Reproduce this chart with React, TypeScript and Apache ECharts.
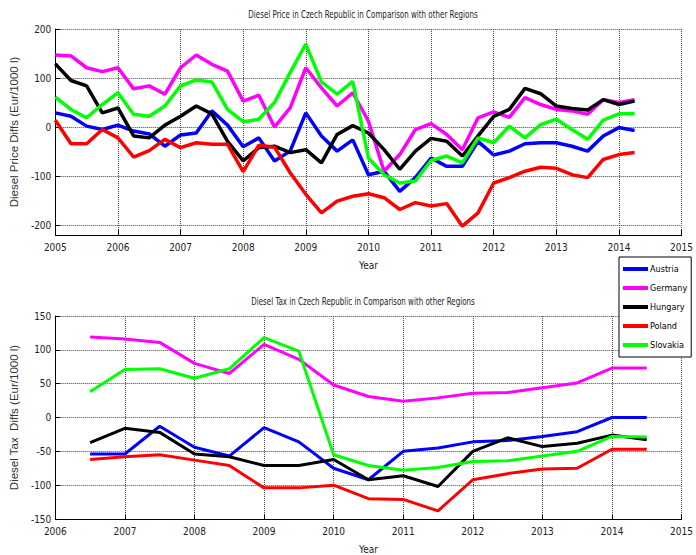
import React, { useEffect, useRef } from "react";
import * as echarts from "echarts";

// ---- Data ----
const countries = ["Austria", "Germany", "Hungary", "Poland", "Slovakia"];
const countryColors = ["#0000ff", "#ff00ff", "#000000", "#ff0000", "#00ff00"];

const priceQuarters = [
  2005, 2005.25, 2005.5, 2005.75, 2006, 2006.25, 2006.5, 2006.75, 2007, 2007.25,
  2007.5, 2007.75, 2008, 2008.25, 2008.5, 2008.75, 2009, 2009.25, 2009.5, 2009.75,
  2010, 2010.25, 2010.5, 2010.75, 2011, 2011.25, 2011.5, 2011.75, 2012, 2012.25,
  2012.5, 2012.75, 2013, 2013.25, 2013.5, 2013.75, 2014, 2014.25,
];
const priceAustria = [
  29, 22, 2, -5, 4, -8, -14, -39, -16, -12, 33, 4, -40, -22, -69, -49, 29, -18, -49, -26,
  -97, -90, -131, -103, -63, -80, -80, -29, -57, -49, -34, -32, -32, -39, -49, -18, -1, -7,
];
const priceGermany = [
  147, 145, 121, 113, 121, 78, 84, 67, 121, 147, 128, 114, 53, 65, 0, 39, 121, 80, 43, 70,
  12, -90, -56, -5, 7, -15, -46, 19, 31, 20, 60, 46, 36, 33, 26, 56, 50, 56,
];
const priceHungary = [
  129, 95, 84, 29, 39, -18, -22, 4, 22, 43, 27, -29, -69, -42, -39, -52, -46, -73, -15, 3,
  -12, -46, -86, -49, -23, -29, -59, -18, 22, 36, 79, 68, 43, 38, 35, 56, 46, 53,
];
const pricePoland = [
  14, -34, -34, -5, -22, -61, -48, -25, -42, -32, -35, -35, -91, -37, -41, -93, -137, -175, -151, -141,
  -136, -144, -168, -154, -161, -156, -202, -175, -114, -103, -90, -82, -84, -97, -103, -66, -56, -52,
];
const priceSlovakia = [
  61, 36, 19, 46, 70, 26, 22, 43, 84, 96, 92, 36, 11, 16, 50, 111, 169, 92, 67, 93,
  -63, -97, -114, -110, -68, -59, -73, -22, -32, 2, -22, 5, 16, -5, -25, 14, 27, 27,
];

const taxHalfYears = [
  2006.5, 2007, 2007.5, 2008, 2008.5, 2009, 2009.5, 2010, 2010.5, 2011, 2011.5, 2012,
  2012.5, 2013, 2013.5, 2014, 2014.5,
];
const taxAustria = [-54, -54, -13, -44, -57, -15, -36, -75, -92, -50, -45, -36, -34, -28, -21, 0, 0];
const taxGermany = [119, 116, 111, 80, 65, 108, 86, 48, 31, 24, 29, 36, 37, 44, 51, 73, 73];
const taxHungary = [-37, -16, -22, -54, -58, -71, -71, -62, -92, -86, -102, -50, -30, -43, -38, -26, -33];
const taxPoland = [-62, -58, -55, -63, -71, -104, -104, -100, -120, -121, -138, -92, -83, -76, -75, -47, -47];
const taxSlovakia = [38, 71, 72, 58, 72, 118, 98, -55, -71, -78, -74, -65, -64, -57, -50, -28, -29];

const priceTicks = [-200, -100, 0, 100, 200];

const priceTitle = "Diesel Price in Czech Republic in Comparison with other Regions";
const taxTitle = "Diesel Tax in Czech Republic in Comparison with other Regions";
const priceYName = "Diesel Price Diffs (Eur/1000 l)";
const taxYName = "Diesel Tax  Diffs (Eur/1000 l)";
const xName = "Year";

const NARROW = '"Liberation Sans Narrow", "DejaVu Sans Condensed", "Roboto", sans-serif';
const WIDE = '"Liberation Sans", "Noto Sans", sans-serif';

export default function App() {
  const ref = useRef<HTMLDivElement>(null);

  useEffect(() => {
    if (!ref.current) return;
    const chart = echarts.init(ref.current, null, { renderer: "svg" });

    const priceSets = [priceAustria, priceGermany, priceHungary, pricePoland, priceSlovakia];
    const taxSets = [taxAustria, taxGermany, taxHungary, taxPoland, taxSlovakia];

    const series: any[] = [];
    countries.forEach((name, i) => {
      series.push({
        name,
        type: "line",
        xAxisIndex: 0,
        yAxisIndex: 0,
        symbol: "none",
        showSymbol: false,
        color: countryColors[i],
        lineStyle: { width: 3.5, color: countryColors[i] },
        emphasis: { disabled: true },
        data: priceQuarters.map((x, k) => [x, priceSets[i][k]]),
      });
    });
    countries.forEach((name, i) => {
      series.push({
        name,
        type: "line",
        xAxisIndex: 1,
        yAxisIndex: 1,
        symbol: "none",
        showSymbol: false,
        color: countryColors[i],
        lineStyle: { width: 3, color: countryColors[i] },
        emphasis: { disabled: true },
        data: taxHalfYears.map((x, k) => [x, taxSets[i][k]]),
      });
    });

    const splitLine = { show: true, lineStyle: { type: "dotted", color: "#444", width: 1 } };
    const axisLine = { show: true, onZero: false, lineStyle: { color: "#000", width: 1 } };
    const tickLabel = { color: "#222", fontSize: 10, fontFamily: NARROW };

    const xAxisBase = (gridIndex: number, min: number) => ({
      gridIndex,
      type: "value",
      min,
      max: 2015,
      interval: 1,
      name: xName,
      nameLocation: "middle",
      nameGap: 25,
      nameTextStyle: { color: "#222", fontSize: 10, fontFamily: NARROW },
      axisLine,
      axisTick: { show: true, inside: true, length: 5, lineStyle: { color: "#000" } },
      axisLabel: { ...tickLabel, margin: 7, formatter: (v: number) => String(v) },
      splitLine,
    });

    chart.setOption({
      animation: false,
      backgroundColor: "#ffffff",
      grid: [
        { left: 41, right: 10, top: 29, height: 206 },
        { left: 41, right: 10, top: 316, height: 206 },
      ],
      xAxis: [xAxisBase(0, 2005), xAxisBase(1, 2006)],
      yAxis: [
        {
          gridIndex: 0,
          type: "value",
          min: -220,
          max: 200,
          name: priceYName,
          nameLocation: "middle",
          nameGap: 27,
          nameTextStyle: { color: "#333", fontSize: 11.5, fontFamily: WIDE },
          axisLine,
          axisTick: { show: true, inside: true, length: 5, customValues: priceTicks, lineStyle: { color: "#000" } },
          axisLabel: { ...tickLabel, margin: 4, customValues: priceTicks },
          splitLine,
        },
        {
          gridIndex: 1,
          type: "value",
          min: -150,
          max: 150,
          interval: 50,
          name: taxYName,
          nameLocation: "middle",
          nameGap: 27,
          nameTextStyle: { color: "#333", fontSize: 11.5, fontFamily: WIDE },
          axisLine,
          axisTick: { show: true, inside: true, length: 5, lineStyle: { color: "#000" } },
          axisLabel: { ...tickLabel, margin: 4 },
          splitLine,
        },
      ],
      legend: {
        data: countries,
        orient: "vertical",
        left: 619,
        top: 257,
        icon: "rect",
        itemWidth: 25,
        itemHeight: 4,
        itemGap: 7,
        padding: [6, 4, 6, 4],
        borderColor: "#000",
        borderWidth: 1,
        backgroundColor: "#ffffff",
        textStyle: { color: "#000", fontSize: 9, lineHeight: 12, fontFamily: NARROW, padding: [0, 0, 0, -3] },
        selectedMode: false,
      },
      graphic: [
        {
          type: "text",
          x: 363,
          y: 14,
          scaleX: 0.72,
          style: { text: priceTitle, align: "center", verticalAlign: "middle", fontSize: 11, fill: "#222", fontFamily: NARROW },
        },
        {
          type: "text",
          x: 363,
          y: 301,
          scaleX: 0.72,
          style: { text: taxTitle, align: "center", verticalAlign: "middle", fontSize: 11, fill: "#222", fontFamily: NARROW },
        },
      ],
      series,
    });

    return () => chart.dispose();
  }, []);

  return (
    <div
      ref={ref}
      style={{ position: "fixed", left: 0, top: 0, width: 696, height: 555, background: "#fff" }}
    />
  );
}
